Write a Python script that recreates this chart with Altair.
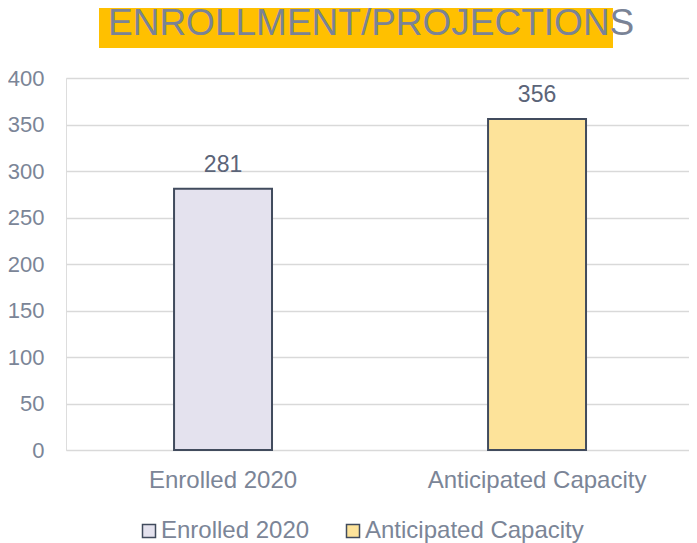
import altair as alt
import pandas as pd

categories = ["Enrolled 2020", "Anticipated Capacity"]
values = [281, 356]
fill_colors = ["#e4e2ee", "#fde39a"]
y_ticks = [0, 50, 100, 150, 200, 250, 300, 350, 400]
title_text = "ENROLLMENT/PROJECTIONS"

FONT = "Liberation Sans"
LABEL = "#7b8597"
EDGE = "#414b5d"

df = pd.DataFrame({"category": categories, "value": values})
title_df = pd.DataFrame({"t": [title_text]})

x_enc = alt.X(
    "category:N",
    sort=categories,
    scale=alt.Scale(paddingInner=0.688, paddingOuter=0.336, align=0.512),
    axis=alt.Axis(
        title=None, labelAngle=0, labelFontSize=24, labelColor=LABEL, labelFont=FONT,
        domain=False, ticks=False, tickSize=0, grid=False, labelPadding=18, labelLimit=400,
    ),
)
y_enc = alt.Y(
    "value:Q",
    scale=alt.Scale(domain=[0, 400], nice=False),
    axis=alt.Axis(
        title=None, values=y_ticks, labelFontSize=22, labelColor=LABEL, labelFont=FONT,
        domain=False, ticks=False, tickSize=0, grid=True, gridColor="#d9d9d9",
        gridWidth=1.3, labelPadding=22,
    ),
)

bars = alt.Chart(df).mark_bar(stroke=EDGE, strokeWidth=2).encode(
    x=x_enc,
    y=y_enc,
    color=alt.Color(
        "category:N",
        sort=categories,
        scale=alt.Scale(domain=categories, range=fill_colors),
        legend=alt.Legend(
            title=None, orient="none", legendX=71, legendY=441, direction="horizontal",
            symbolType="square", symbolSize=169, symbolStrokeColor=EDGE,
            symbolStrokeWidth=1.5, symbolOpacity=1, labelFontSize=24, labelColor=LABEL,
            labelFont=FONT, columnPadding=31, labelOffset=0, padding=0, labelLimit=400,
        ),
    ),
)

labels = alt.Chart(df).mark_text(
    baseline="alphabetic", dy=-17, fontSize=23, color="#5b6478", font=FONT
).encode(x=alt.X("category:N", sort=categories), y="value:Q", text="value:Q")

title_box = alt.Chart(alt.Data(values=[{}])).mark_rect(color="#ffc000").encode(
    x=alt.value(33), x2=alt.value(547), y=alt.value(-70), y2=alt.value(-30)
)

title_mark = alt.Chart(title_df).mark_text(
    align="left", baseline="alphabetic", fontSize=37, color="#7a8396", font=FONT
).encode(x=alt.value(42), y=alt.value(-43), text="t:N")

chart = alt.layer(title_box, title_mark, bars, labels).properties(
    width=623,
    height=372,
    autosize=alt.AutoSizeParams(type="none"),
    padding={"left": 58, "top": 70, "right": 0, "bottom": 93},
).configure_view(stroke=None).configure(font=FONT)

chart.save("out.html", embed_options={"renderer": "svg", "actions": False})
